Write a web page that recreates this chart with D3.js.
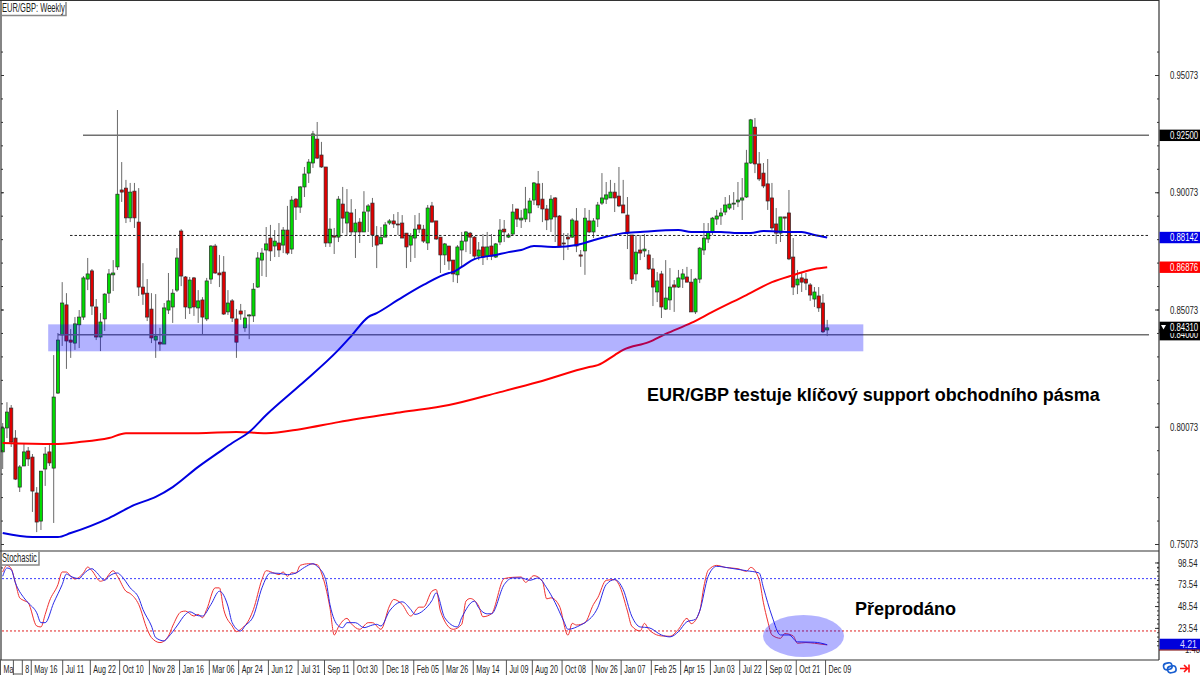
<!DOCTYPE html>
<html>
<head>
<meta charset="utf-8">
<title>EUR/GBP Weekly</title>
<script src="https://cdnjs.cloudflare.com/ajax/libs/d3/7.8.5/d3.min.js"></script>
<style>
    html, body { margin: 0; padding: 0; background: #fff; }
    svg { display: block; }
    text { font-family: "Liberation Sans", Arial, sans-serif; }
</style>
</head>
<body>
<svg id="chart" width="1200" height="675"></svg>
<script>
// weekly candles
var opens = [
    .7900,.8002,.8087,.7959,.7750,.7840,.7904,.7878,.7725,.7605,
    .7827,.7900,.7831,.8151,.8399,.8527,.8377,.8364,.8442,.8475,
    .8637,.8672,.8518,.8390,.8467,.8577,.8655,.8689,.9017,.9025,
    .8898,.9012,.8880,.8603,.8577,.8509,.8377,.8368,.8360,.8505,
    .8518,.8590,.8842,.8646,.8514,.8642,.8514,.8548,.8467,.8637,
    .8778,.8663,.8667,.8497,.8544,.8467,.8501,.8429,.8480,.8480,
    .8603,.8718,.8761,.8812,.8778,.8791,.8782,.8846,.8765,.8978,
    .8944,.9030,.9089,.9132,.9234,.9166,.9115,.8791,.8821,.8816,
    .8957,.8876,.8919,.8838,.8880,.8838,.8927,.8961,.8821,.8787,
    .8816,.8876,.8885,.8872,.8876,.8833,.8782,.8812,.8868,.8850,
    .8791,.8949,.8885,.8816,.8740,.8778,.8718,.8655,.8761,.8799,
    .8833,.8816,.8735,.8774,.8735,.8778,.8731,.8795,.8850,.8816,
    .8829,.8936,.8889,.8893,.8919,.8974,.9043,.8978,.8936,.8893,
    .8983,.8906,.8791,.8816,.8816,.8885,.8740,.8757,.8885,.8838,
    .8893,.8961,.8978,.8983,.9008,.8991,.8953,.8910,.8825,.8659,
    .8761,.8757,.8740,.8680,.8582,.8659,.8509,.8548,.8612,.8603,
    .8637,.8646,.8624,.8497,.8637,.8761,.8808,.8838,.8893,.8906,
    .8923,.8940,.8957,.8966,.8974,.8987,.9132,.9285,.9128,.9089,
    .9043,.8983,.8872,.8833,.8902,.8919,.8731,.8612,.8642,.8637,.8612,.8552,.8565,.8535,.8420
];
var closes = [
    .8002,.8070,.7942,.7784,.7836,.7900,.7870,.7733,.7601,.7818,
    .7891,.7853,.8134,.8377,.8535,.8373,.8368,.8446,.8475,.8642,
    .8659,.8522,.8390,.8454,.8573,.8659,.8663,.8999,.9008,.8898,
    .9008,.8898,.8603,.8573,.8475,.8386,.8394,.8360,.8514,.8544,
    .8577,.8727,.8650,.8518,.8633,.8518,.8544,.8475,.8629,.8778,
    .8663,.8655,.8488,.8535,.8471,.8368,.8488,.8471,.8484,.8594,
    .8727,.8748,.8787,.8757,.8799,.8761,.8846,.8748,.8974,.8944,
    .9030,.9085,.9136,.9256,.9153,.9115,.8791,.8850,.8816,.8978,
    .8897,.8923,.8838,.8876,.8838,.8923,.8949,.8825,.8782,.8816,
    .8868,.8885,.8872,.8868,.8812,.8774,.8821,.8850,.8850,.8799,
    .8940,.8880,.8808,.8740,.8787,.8714,.8659,.8774,.8799,.8838,
    .8816,.8735,.8761,.8731,.8774,.8735,.8787,.8846,.8838,.8825,
    .8923,.8893,.8897,.8936,.8970,.9047,.8953,.8936,.8889,.8978,
    .8902,.8774,.8787,.8808,.8889,.8778,.8735,.8897,.8838,.8885,
    .8953,.8983,.8996,.9008,.8983,.8949,.8919,.8833,.8637,.8752,
    .8748,.8765,.8680,.8603,.8629,.8518,.8556,.8603,.8603,.8642,
    .8659,.8624,.8497,.8637,.8769,.8812,.8838,.8897,.8906,.8919,
    .8953,.8957,.8961,.8974,.8983,.9132,.9316,.9128,.9064,.9034,
    .8970,.8855,.8833,.8902,.8897,.8723,.8603,.8637,.8624,.8620,.8569,.8582,.8514,.8412,.8429
];
var highs = [
    .8023,.8112,.8100,.7993,.7844,.7938,.7921,.7891,.7750,.7818,
    .7921,.7930,.8313,.8407,.8624,.8577,.8424,.8475,.8505,.8650,
    .8727,.8680,.8552,.8492,.8577,.8680,.8718,.9358,.9136,.9060,
    .9047,.9047,.9025,.8705,.8637,.8577,.8573,.8429,.8535,.8663,
    .8594,.8769,.8850,.8650,.8646,.8646,.8590,.8560,.8642,.8782,
    .8787,.8740,.8735,.8590,.8552,.8509,.8531,.8505,.8488,.8620,
    .8752,.8769,.8859,.8868,.8846,.8876,.8859,.8949,.8991,.8983,
    .9034,.9115,.9149,.9269,.9307,.9222,.9115,.8897,.8855,.8991,
    .9030,.9021,.8978,.8936,.8897,.9012,.8957,.8983,.8863,.8859,
    .8880,.8893,.8914,.8923,.8910,.8833,.8833,.8910,.8919,.8868,
    .8953,.8966,.8885,.8816,.8791,.8778,.8718,.8782,.8838,.8842,
    .8838,.8821,.8795,.8829,.8838,.8829,.8791,.8893,.8889,.8833,
    .8957,.8936,.8932,.9030,.8983,.9051,.9098,.9047,.8953,.8995,
    .8987,.8910,.8833,.8833,.8897,.8940,.8761,.8940,.8932,.8897,
    .8966,.9089,.9051,.9060,.9047,.9115,.9060,.8987,.8825,.8825,
    .8825,.8829,.8761,.8727,.8667,.8672,.8718,.8684,.8633,.8676,
    .8680,.8689,.8680,.8642,.8774,.8876,.8876,.8902,.8932,.8940,
    .8987,.8995,.9008,.9051,.9068,.9188,.9320,.9324,.9179,.9132,
    .9149,.9047,.8940,.8902,.8902,.9017,.8812,.8676,.8663,.8663,.8620,.8603,.8603,.8573,.8463
];
var lows = [
    .7827,.7959,.7921,.7780,.7729,.7840,.7840,.7644,.7558,.7567,
    .7755,.7840,.7597,.8147,.8352,.8254,.8301,.8335,.8343,.8463,
    .8590,.8484,.8377,.8330,.8416,.8535,.8586,.8676,.8966,.8876,
    .8880,.8855,.8565,.8527,.8458,.8364,.8301,.8331,.8360,.8488,
    .8450,.8582,.8607,.8467,.8488,.8480,.8450,.8399,.8458,.8616,
    .8659,.8603,.8484,.8484,.8454,.8301,.8463,.8412,.8381,.8454,
    .8599,.8650,.8646,.8714,.8731,.8731,.8748,.8740,.8744,.8889,
    .8919,.8987,.9047,.9111,.9149,.9111,.8774,.8774,.8744,.8795,
    .8833,.8821,.8825,.8727,.8791,.8838,.8838,.8774,.8684,.8787,
    .8816,.8868,.8855,.8825,.8812,.8684,.8710,.8727,.8833,.8791,
    .8761,.8880,.8804,.8663,.8697,.8676,.8624,.8620,.8689,.8752,
    .8744,.8722,.8718,.8697,.8718,.8718,.8727,.8782,.8795,.8812,
    .8825,.8859,.8855,.8880,.8880,.8953,.8940,.8880,.8846,.8838,
    .8795,.8774,.8718,.8761,.8812,.8752,.8689,.8655,.8833,.8812,
    .8859,.8953,.8957,.8983,.8923,.8944,.8919,.8765,.8616,.8629,
    .8718,.8731,.8676,.8522,.8539,.8471,.8505,.8505,.8497,.8599,
    .8599,.8624,.8497,.8488,.8620,.8740,.8791,.8825,.8868,.8868,
    .8910,.8932,.8932,.8944,.8889,.8983,.9128,.9089,.9055,.9025,
    .8932,.8846,.8787,.8795,.8846,.8718,.8569,.8573,.8582,.8590,.8544,.8518,.8497,.8407,.8394
];

// moving averages, read at the bars where the line bends
var blueMaBars = [0,7,13,16,25,31,36,40,46,51,54,58,62,70,79,82,86,88,93,99,105,106,108,111,116,119,122,125,130,135,140,146,150,159,162,169,173,176,179,185,188,191,194];
var blueMaValues = [.7554,.7537,.7537,.7554,.7618,.7674,.7708,.7750,.7836,.7900,.7938,.7985,.8057,.8185,.8335,.8394,.8475,.8492,.8548,.8612,.8663,.8667,.8689,.8722,.8740,.8752,.8761,.8778,.8774,.8782,.8808,.8833,.8838,.8846,.8838,.8838,.8833,.8833,.8842,.8838,.8838,.8825,.88142];
var redMaBars = [0,12,18,25,29,31,36,46,55,62,70,79,94,105,117,126,138,140,144,146,152,156,162,167,175,181,186,191,194];
var redMaValues = [.7938,.7934,.7942,.7959,.7980,.7980,.7980,.7980,.7985,.7980,.7997,.8027,.8070,.8100,.8155,.8198,.8262,.8270,.8313,.8335,.8368,.8403,.8450,.8497,.8569,.8624,.8654,.8680,.86876];

// stochastic
var stochMainBars = [0,1,2,3,4,5,6,8,9,10,11,13,14,15,16,17,19,20,21,23,24,26,27,29,30,32,34,35,37,39,40,42,43,45,46,47,48,50,51,52,54,55,56,58,59,61,62,64,65,66,67,68,69,70,72,74,75,77,78,79,81,82,84,86,87,89,91,92,94,96,98,99,101,102,103,106,108,109,110,112,113,115,118,120,122,123,125,127,128,129,131,133,134,135,137,139,140,142,144,145,147,148,150,151,152,155,157,159,161,162,164,165,166,168,170,173,175,176,178,179,180,181,183,184,186,187,189,191,194];
var stochMainValues = [87.6,95.2,91.4,75.1,58.0,54.9,52.3,25.7,24.6,39.0,54.2,73.2,87.6,87.6,82.7,79.6,86.5,93.3,89.1,77.0,78.9,89.1,82.7,65.6,62.9,50.4,21.9,12.4,6.7,14.3,25.7,42.0,42.8,37.1,39.0,35.2,44.7,69.4,69.4,44.7,25.7,19.2,21.9,33.3,44.7,78.9,89.1,86.1,84.6,87.6,82.7,86.8,86.1,95.2,97.1,96.0,86.5,46.6,15.4,24.6,34.4,28.4,21.9,29.5,29.5,21.9,48.5,56.1,50.4,37.1,47.3,47.3,65.6,67.5,42.8,21.9,27.6,54.2,57.2,48.5,36.3,39.7,80.0,81.5,81.9,75.8,83.4,77.0,56.8,58.0,48.5,15.1,28.7,26.8,29.5,50.4,58.0,78.1,78.9,73.2,42.8,25.7,20.0,28.7,21.9,14.3,13.9,21.9,34.4,28.4,42.8,71.3,89.5,95.2,92.9,91.4,88.4,92.9,78.9,52.3,31.4,15.4,11.6,17.0,14.3,5.9,6.7,5.9,4.0];
var stochSignalBars = [0,1,2,3,5,6,8,9,10,12,14,15,16,18,19,21,22,24,25,27,28,30,32,33,35,36,38,39,41,43,44,46,47,49,51,53,54,56,57,59,61,63,65,67,69,71,73,74,76,77,79,80,81,83,85,87,88,89,91,94,96,97,99,101,102,104,107,108,111,112,114,115,118,120,122,124,126,128,130,132,133,136,137,140,142,144,146,148,150,152,155,157,159,161,163,164,166,168,171,175,178,179,181,183,185,187,191,194];
var stochSignalValues = [82.7,92.2,90.3,75.1,58.0,52.3,40.9,29.5,29.5,52.3,73.2,85.3,82.7,80.0,85.3,91.4,87.6,78.1,82.7,86.5,82.7,69.4,58.0,44.7,25.7,12.4,8.6,13.2,25.7,39.0,42.0,37.5,37.1,50.4,65.6,48.5,29.5,20.0,25.7,37.1,69.4,86.5,86.1,84.6,86.5,92.9,97.1,94.1,78.9,50.4,25.7,23.8,29.5,29.5,23.8,26.8,27.6,25.7,42.8,53.4,44.7,39.0,43.5,54.9,63.7,35.2,24.6,35.2,54.2,46.6,39.7,39.7,73.2,80.8,80.8,78.1,80.8,69.4,52.3,31.4,21.9,26.8,29.5,46.6,73.2,78.9,67.5,37.1,24.6,23.8,15.4,13.2,19.2,30.6,33.3,42.8,82.7,94.1,92.2,89.1,86.5,69.4,37.1,15.4,15.4,7.5,7.1,4.21];

// axes
var priceTickValues = [.95073,.90073,.85073,.80073,.75073];
var stochTickValues = [98.54,73.54,48.54,23.54,1.48];
var timeTickBars = [-.64,2.4,4.5,6.6,14,20.5,27.4,34.4,41.5,48.5,55.4,62.4,69.4,75.6,82.5,89.4,96.6,103.5,110.6,118.4,124.5,131.5,138.6,145.4,152.5,159.4,166.4,173.3,179.6,186.6,193.5];
var timeTickLabels = ["Ma","","8","May 16","Jul 11","Aug 22","Oct 10","Nov 28","Jan 16","Mar 06","Apr 24","Jun 12","Jul 31","Sep 11","Oct 30","Dec 18","Feb 05","Mar 26","May 14","Jul 09","Aug 20","Oct 08","Nov 26","Jan 07","Feb 25","Apr 15","Jun 03","Jul 22","Sep 02","Oct 21","Dec 09"];

// labelled levels on the right
var levelPrices = [.92500,.88142,.86876,.84000,.84310];
var levelLabels = ["0.92500","0.88142","0.86876","0.84000","0.84310"];
var levelColors = ["#000","#0000e6","#ff0000","#000","#000"];

var width = 1200, axisX = 1159, mainBottom = 551, stochBottom = 660;
var labelFont = 11, labelSqueeze = .71;
var svg = d3.select("#chart");

var xScale = d3.scaleLinear().domain([0, 194]).range([2.7, 827.2]);
var yScale = d3.scaleLinear().domain([.95073, .75073]).range([75, 544]);
var stochScale = d3.scaleLinear().domain([0, 100]).range([648.4, 561.2]);

// the source font is narrow after the screenshot was scaled down
function squeeze(sel, f) {
    sel.each(function () {
        var x = +this.getAttribute("x") || 0;
        var y = +this.getAttribute("y") || 0;
        this.setAttribute("x", 0);
        this.setAttribute("y", 0);
        this.setAttribute("transform", "translate(" + x + "," + y + ") scale(" + f + ",1)");
    });
}

function bars(values) {
    return values.map(function (v, i) { return i; });
}

// candles
var candles = svg.append("g").attr("class", "candles");
candles.selectAll("line")
    .data(bars(opens))
    .enter().append("line")
    .attr("x1", function (i) { return xScale(i); })
    .attr("x2", function (i) { return xScale(i); })
    .attr("y1", function (i) { return yScale(highs[i]); })
    .attr("y2", function (i) { return yScale(lows[i]); })
    .attr("stroke", "#6a6a6a")
    .attr("stroke-width", 1);

candles.selectAll("rect")
    .data(bars(opens))
    .enter().append("rect")
    .attr("x", function (i) { return xScale(i) - 1.6; })
    .attr("width", 3.2)
    .attr("y", function (i) { return yScale(Math.max(opens[i], closes[i])); })
    .attr("height", function (i) { return Math.max(1, Math.abs(yScale(opens[i]) - yScale(closes[i]))); })
    .attr("fill", function (i) { return closes[i] >= opens[i] ? "#00dc00" : "#e00000"; })
    .attr("stroke", "#2a2a2a")
    .attr("stroke-width", .7);

// moving averages
var maLine = d3.line()
    .x(function (d) { return xScale(d[0]); })
    .y(function (d) { return yScale(d[1]); })
    .curve(d3.curveMonotoneX);

svg.append("path")
    .attr("d", maLine(d3.zip(redMaBars, redMaValues)))
    .attr("fill", "none").attr("stroke", "#ff0000").attr("stroke-width", 2);
svg.append("path")
    .attr("d", maLine(d3.zip(blueMaBars, blueMaValues)))
    .attr("fill", "none").attr("stroke", "#0000e0").attr("stroke-width", 2);

// hand drawn levels
function level(price, x1, dash) {
    svg.append("line")
        .attr("x1", x1).attr("x2", 1149)
        .attr("y1", yScale(price)).attr("y2", yScale(price))
        .attr("stroke", dash ? "#222" : "#707070")
        .attr("stroke-width", dash ? 1 : 1.5)
        .attr("stroke-dasharray", dash);
}
level(.92500, 83);
level(.88230, 70, "2.5 2");
level(.84000, 58);

// support zone
svg.append("rect")
    .attr("x", xScale(10.7)).attr("width", xScale(202.5) - xScale(10.7))
    .attr("y", yScale(.8444)).attr("height", yScale(.8329) - yScale(.8444))
    .attr("fill", "#0000ff").attr("fill-opacity", .3);

// stochastic levels and lines
function stochLevel(v, color) {
    svg.append("line")
        .attr("x1", 2).attr("x2", axisX)
        .attr("y1", stochScale(v)).attr("y2", stochScale(v))
        .attr("stroke", color).attr("stroke-width", 1)
        .attr("stroke-dasharray", "2 2");
}
stochLevel(80, "#3a3aff");
stochLevel(20, "#e02020");

var stochLine = d3.line()
    .x(function (d) { return xScale(d[0]); })
    .y(function (d) { return stochScale(d[1]); })
    .curve(d3.curveMonotoneX);

svg.append("path")
    .attr("d", stochLine(d3.zip(stochMainBars, stochMainValues)))
    .attr("fill", "none").attr("stroke", "#f03030").attr("stroke-width", 1);
svg.append("path")
    .attr("d", stochLine(d3.zip(stochSignalBars, stochSignalValues)))
    .attr("fill", "none").attr("stroke", "#2a2ae8").attr("stroke-width", 1);

// oversold circle
svg.append("ellipse")
    .attr("cx", 803.5).attr("cy", 636).attr("rx", 40.5).attr("ry", 21)
    .attr("fill", "#0000ff").attr("fill-opacity", .3);

// panel frame
var frame = svg.append("g").attr("stroke", "#333").attr("stroke-width", 1.2);
frame.append("line").attr("x1", 0).attr("x2", axisX).attr("y1", .5).attr("y2", .5);
frame.append("line").attr("x1", 0).attr("x2", axisX).attr("y1", mainBottom).attr("y2", mainBottom);
frame.append("line").attr("x1", 0).attr("x2", axisX).attr("y1", stochBottom).attr("y2", stochBottom);
frame.append("line").attr("x1", axisX).attr("x2", axisX).attr("y1", 0).attr("y2", stochBottom);
frame.append("line").attr("x1", 1).attr("x2", 1).attr("y1", 0).attr("y2", stochBottom);

// price axis, minor ticks every 0.01, with the same ticks on the left edge
var minorPrices = d3.range(0, 23).map(function (k) { return .96073 - k * .01; });
function styleAxis(g) {
    g.select(".domain").remove();
    g.selectAll("line").attr("stroke", "#333");
    g.selectAll("text").attr("fill", "#222").attr("font-size", labelFont);
}
svg.append("g").attr("transform", "translate(" + axisX + ",0)")
    .call(d3.axisLeft(yScale).tickValues(minorPrices).tickSize(2).tickFormat(""))
    .call(styleAxis);
svg.append("g").attr("transform", "translate(" + axisX + ",0)")
    .call(d3.axisLeft(yScale).tickValues(priceTickValues).tickSize(4).tickFormat(""))
    .call(styleAxis);
svg.append("g").attr("transform", "translate(1,0)")
    .call(d3.axisRight(yScale).tickValues(minorPrices).tickSize(2).tickFormat(""))
    .call(styleAxis);
svg.append("g").attr("transform", "translate(1,0)")
    .call(d3.axisRight(yScale).tickValues(priceTickValues).tickSize(3).tickFormat(""))
    .call(styleAxis);

var priceAxis = svg.append("g").attr("transform", "translate(" + axisX + ",0)")
    .call(d3.axisRight(yScale).tickValues(priceTickValues).tickSize(0).tickPadding(11).tickFormat(d3.format(".5f")))
    .call(styleAxis);
squeeze(priceAxis.selectAll("text"), labelSqueeze);

// stochastic axis
var minorStoch = d3.range(0, 20).map(function (k) { return 98.54 - k * 5; });
svg.append("g").attr("transform", "translate(" + axisX + ",0)")
    .call(d3.axisLeft(stochScale).tickValues(minorStoch).tickSize(2).tickFormat(""))
    .call(styleAxis);
svg.append("g").attr("transform", "translate(" + axisX + ",0)")
    .call(d3.axisLeft(stochScale).tickValues(stochTickValues.slice(0, 4)).tickSize(4).tickFormat(""))
    .call(styleAxis);
var stochAxis = svg.append("g").attr("transform", "translate(" + axisX + ",0)")
    .call(d3.axisRight(stochScale).tickValues(stochTickValues).tickSize(0).tickPadding(19).tickFormat(function (d, i) { return stochTickValues[i].toFixed(2); }))
    .call(styleAxis);
stochAxis.selectAll("text").filter(function (d) { return d === 1.48; })
    .attr("x", 26).attr("y", 2);
squeeze(stochAxis.selectAll("text"), labelSqueeze);

// boxes for the drawn levels and the last values
var boxes = svg.append("g");
levelPrices.forEach(function (p, i) {
    var y = yScale(p);
    boxes.append("rect")
        .attr("x", axisX + .6).attr("width", width - axisX)
        .attr("y", y - 5.7).attr("height", 11.4)
        .attr("fill", levelColors[i]);
    boxes.append("text")
        .attr("x", axisX + 11).attr("y", y + 3.7)
        .attr("fill", "#fff").attr("font-size", labelFont)
        .text(levelLabels[i])
        .call(squeeze, labelSqueeze);
});
// last bid arrow
boxes.append("path")
    .attr("d", d3.line()([[1161, yScale(.8431) - 2.5], [1166, yScale(.8431) - 2.5], [1163.5, yScale(.8431) + 2]]))
    .attr("fill", "#fff");

// last signal value box
boxes.append("rect")
    .attr("x", axisX + .6).attr("width", width - axisX)
    .attr("y", stochScale(4.21) - 6).attr("height", 11)
    .attr("fill", "#0000dc");
boxes.append("line")
    .attr("x1", axisX).attr("x2", width)
    .attr("y1", stochScale(4.21) + 5.3).attr("y2", stochScale(4.21) + 5.3)
    .attr("stroke", "#7a0000").attr("stroke-width", 1);
boxes.append("text")
    .attr("x", 1197).attr("y", stochScale(4.21) + 3.3)
    .attr("text-anchor", "end")
    .attr("fill", "#dcdcff").attr("font-size", labelFont)
    .text("4.21")
    .call(squeeze, .8);

// time axis
var timeAxis = svg.append("g").attr("transform", "translate(0," + stochBottom + ")")
    .call(d3.axisBottom(xScale).tickValues(timeTickBars).tickSize(15).tickPadding(0)
        .tickFormat(function (d, i) { return timeTickLabels[i]; }));
timeAxis.select(".domain").remove();
timeAxis.selectAll("line").attr("stroke", "#555");
timeAxis.selectAll("text")
    .attr("text-anchor", "start")
    .attr("x", 3).attr("y", 13).attr("dy", 0)
    .attr("fill", "#222").attr("font-size", 11.5)
    .call(squeeze, .62);
svg.append("line").attr("x1", xScale(2.4)).attr("x2", xScale(4.5)).attr("y1", 674).attr("y2", 674).attr("stroke", "#555");

// little chart captions with their frames
function caption(label, x2, y1, y2, top) {
    var g = svg.append("g");
    g.append("path")
        .attr("d", "M" + x2 + "," + y1 + "V" + y2 + "H1")
        .attr("fill", "none").attr("stroke", "#888").attr("stroke-width", 1.5);
    g.append("text")
        .attr("x", 2).attr("y", top)
        .attr("fill", "#222").attr("font-size", 12)
        .text(label)
        .call(squeeze, .63);
}
caption("EUR/GBP: Weekly", 66, 2, 15.5, 12);
caption("Stochastic", 39, 552, 565, 562);

// annotations
svg.append("text")
    .attr("x", 647).attr("y", 401)
    .attr("font-size", 18).attr("font-weight", "bold").attr("fill", "#000")
    .text("EUR/GBP testuje klíčový support obchodního pásma");
svg.append("text")
    .attr("x", 855).attr("y", 615)
    .attr("font-size", 18).attr("font-weight", "bold").attr("fill", "#000")
    .text("Přeprodáno");

// terminal icons bottom right
var links = svg.append("g").attr("fill", "none").attr("stroke", "#1a5fd0").attr("stroke-width", 1.6);
links.append("rect").attr("x", 1163.5).attr("y", 663).attr("width", 8.5).attr("height", 6.5).attr("rx", 3).attr("transform", "rotate(-12 1168 666)");
links.append("rect").attr("x", 1167.5).attr("y", 666).attr("width", 8.5).attr("height", 6.5).attr("rx", 3).attr("transform", "rotate(-12 1172 669)");
svg.append("path")
    .attr("d", "M1180,668.5H1187M1184,665L1187.5,668.5L1184,672M1189,664.5V672.5")
    .attr("fill", "none").attr("stroke", "#ff1010").attr("stroke-width", 1.6);
</script>
</body>
</html>
